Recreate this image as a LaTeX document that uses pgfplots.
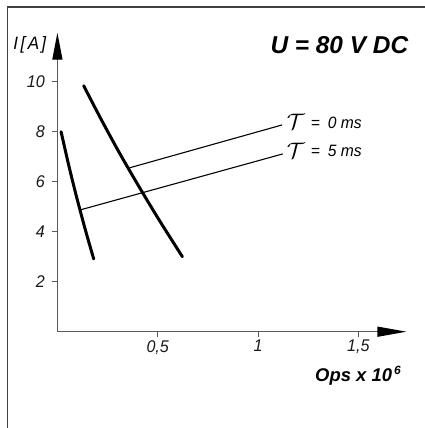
\documentclass[border=0pt]{standalone}
\usepackage{fontspec}
\setmainfont{Liberation Sans}
\newfontfamily\dinfont[FakeStretch=0.95]{Liberation Sans}
\usepackage{pgfplots}
\pgfplotsset{compat=1.18}
\usetikzlibrary{arrows.meta}

\pgfplotstableread{
x y
0.0184 8.00
0.0561 6.67
0.0975 5.33
0.142 4.00
0.181 2.91
}\curveA
\pgfplotstableread{
x y
0.131 9.84
0.217 8.51
0.308 7.17
0.404 5.84
0.504 4.51
0.623 3.00
}\curveB
\pgfplotstableread{
x y
0.353 6.54
1.120 8.27
}\lineZero
\pgfplotstableread{
x y
0.113 4.87
1.123 7.11
}\lineFive

\begin{document}
\begin{tikzpicture}
\useasboundingbox (0bp,0bp) rectangle (425bp,428bp);
\draw[line width=1.2bp, black!75] (7.3bp,-2bp) -- (7.3bp,421bp) -- (430bp,421bp);
\begin{axis}[
  at={(57.4bp,96.3bp)}, anchor=south west,
  x=200.6bp, y=25bp,
  xmin=0, xmax=1.74, ymin=0, ymax=11.96,
  axis lines=left,
  axis line style={line width=1.3bp, black!65},
  x axis line style={-{Triangle[length=29bp,width=10bp,black]}},
  y axis line style={-{Triangle[length=27bp,width=10bp,black]}},
  tick align=outside,
  major tick length=5bp,
  tick style={black!65, line width=1bp},
  xtick={0.5,1,1.5},
  xticklabels={{0,5},{1},{1,5}},
  ytick={2,4,6,8,10},
  yticklabels={2,4,6,8,10},
  ticklabel style={font=\dinfont\itshape\fontsize{17}{17}\selectfont, black!90},
  yticklabel style={xshift=-4bp},
  clip=false,
]
\addplot[black, line width=3bp, line cap=round, smooth] table {\curveA};
\addplot[black, line width=3bp, line cap=round, smooth] table {\curveB};
\addplot[black, line width=1.1bp] table {\lineZero};
\addplot[black, line width=1.1bp] table {\lineFive};
\end{axis}
\node[anchor=base west, inner sep=0pt, font=\bfseries\itshape\fontsize{24.5}{24.5}\selectfont] at (270.3bp,374bp) {U = 80 V DC};
\node[anchor=base west, inner sep=0pt, font=\dinfont\itshape\fontsize{18}{18}\selectfont] at (13.3bp,378.5bp) {I\kern2.5pt[\kern2.5pt A\kern2pt]};
\node[anchor=base west, inner sep=0pt, font=\bfseries\itshape\fontsize{18.5}{18.5}\selectfont] at (315bp,46.5bp) {Ops x 10\kern2pt\raisebox{7pt}{\fontsize{12}{12}\selectfont 6}};
\node[anchor=base west, inner sep=0pt, font=\dinfont\itshape\fontsize{16.5}{16.5}\selectfont] at (286.7bp,299.7bp) {\raisebox{-1.5pt}{\scalebox{1.3}{$\mathcal{T}$}}\kern6pt=\kern8pt 0 ms};
\node[anchor=base west, inner sep=0pt, font=\dinfont\itshape\fontsize{16.5}{16.5}\selectfont] at (286.7bp,271.3bp) {\raisebox{-1.5pt}{\scalebox{1.3}{$\mathcal{T}$}}\kern6pt=\kern8pt 5 ms};
\end{tikzpicture}
\end{document}
